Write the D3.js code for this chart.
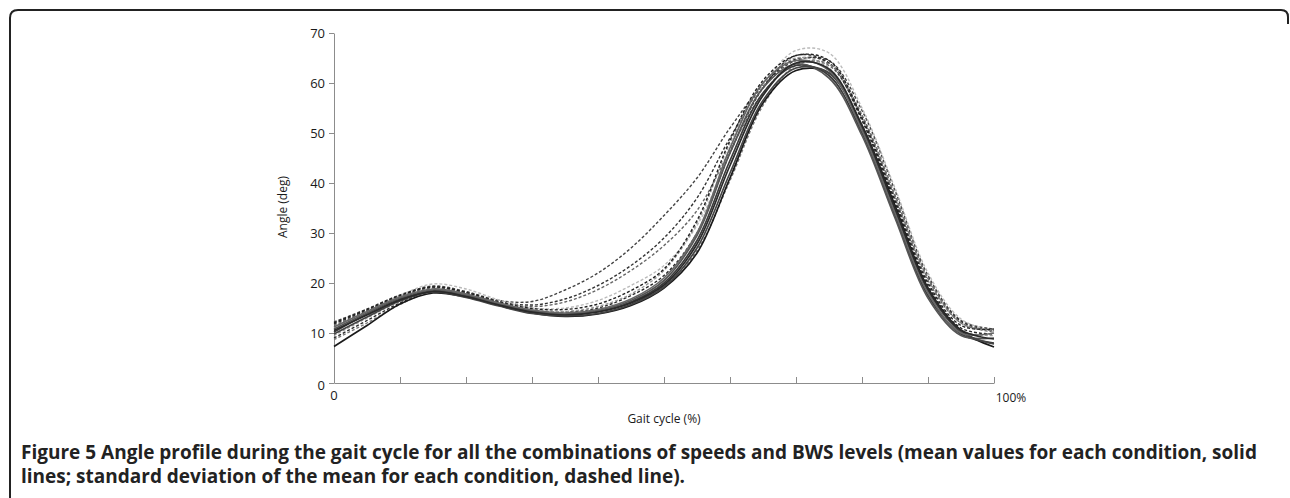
<!DOCTYPE html>
<html>
<head>
<meta charset="utf-8">
<script src="https://cdn.jsdelivr.net/npm/d3@7"></script>
<style>
  body { margin: 0; background: #fff; }
  svg { display: block; }
</style>
</head>
<body>
<div id="chart"></div>
<script>
// gait cycle samples (%)
var gaitPct = [0, 5, 10, 15, 20, 25, 30, 35, 40, 45, 50, 55, 60, 65, 70, 75, 80, 85, 90, 95, 100];

// mean angle per condition (solid)
var mean1 = [7.3, 11.5, 15.8, 18.0, 17.2, 15.5, 14.0, 13.3, 13.8, 15.5, 19.0, 26.0, 41.0, 56.0, 62.5, 62.0, 51.5, 35.5, 19.0, 10.5, 7.2];
var mean2 = [10.2, 13.8, 16.8, 18.4, 17.4, 15.7, 14.3, 13.7, 14.3, 16.2, 20.0, 28.5, 44.5, 58.0, 63.5, 61.5, 50.0, 33.5, 17.5, 9.8, 8.0];
var mean3 = [10.8, 14.0, 17.0, 18.6, 17.6, 15.8, 14.4, 13.8, 14.5, 16.5, 20.5, 29.5, 46.0, 59.0, 63.8, 61.0, 49.5, 33.0, 17.0, 9.5, 9.0];
var mean4 = [9.8, 13.2, 16.4, 18.2, 17.1, 15.4, 13.9, 13.4, 13.9, 15.7, 19.2, 27.0, 42.0, 56.5, 63.0, 62.0, 51.0, 34.5, 18.5, 10.2, 7.8];
var mean5 = [11.2, 14.3, 17.2, 18.8, 17.8, 16.0, 14.6, 14.0, 14.7, 16.8, 21.0, 30.0, 47.0, 60.0, 64.5, 62.5, 50.5, 34.0, 18.0, 10.0, 10.0];
var mean6 = [10.5, 13.6, 16.6, 18.3, 17.3, 15.6, 14.2, 13.6, 14.2, 16.0, 19.6, 27.8, 43.5, 57.5, 64.0, 62.8, 51.5, 35.0, 18.8, 10.6, 8.8];

// standard deviation bounds (dashed)
var sd1 = [12.2, 14.8, 17.6, 19.4, 18.3, 16.5, 16.3, 18.6, 22.0, 27.0, 33.5, 41.0, 51.0, 59.5, 64.5, 64.5, 54.5, 38.5, 21.5, 12.5, 10.8];
var sd2 = [11.8, 14.5, 17.4, 19.2, 18.1, 16.3, 15.6, 16.8, 19.5, 23.5, 29.0, 37.0, 49.0, 59.5, 64.8, 64.0, 53.5, 37.5, 21.0, 12.3, 10.5];
var sd3 = [11.5, 14.3, 17.3, 19.0, 18.0, 16.2, 15.3, 16.2, 18.7, 22.5, 27.5, 34.5, 46.5, 58.0, 64.0, 63.5, 53.0, 37.0, 20.5, 12.0, 10.2];
var sd4 = [11.0, 14.2, 17.5, 19.8, 18.8, 16.6, 15.0, 15.0, 16.5, 19.5, 23.5, 31.5, 46.0, 59.5, 66.5, 66.0, 55.0, 39.0, 22.0, 12.8, 10.3];
var sd5 = [9.0, 12.5, 16.0, 18.5, 17.6, 15.8, 14.5, 14.2, 15.0, 17.5, 21.5, 30.0, 46.0, 59.0, 65.5, 64.0, 52.5, 36.0, 19.5, 11.0, 9.8];
var sd6 = [8.7, 12.0, 15.7, 18.2, 17.4, 15.6, 14.2, 13.8, 14.5, 16.3, 19.5, 26.5, 40.5, 55.5, 63.5, 63.8, 53.5, 37.5, 21.0, 12.0, 10.5];
var sd7 = [9.5, 13.0, 16.3, 18.6, 17.7, 15.8, 14.6, 14.3, 15.3, 17.8, 22.5, 32.0, 48.0, 60.0, 65.0, 63.0, 51.0, 34.5, 18.5, 10.5, 9.5];
var sd8 = [12.0, 14.7, 17.5, 19.2, 18.1, 16.2, 14.9, 14.7, 15.8, 18.5, 22.8, 32.5, 48.5, 60.5, 65.5, 64.5, 53.0, 36.5, 20.0, 11.5, 10.8];

var yTicks = [0, 10, 20, 30, 40, 50, 60, 70];
var xTicks = [0, 10, 20, 30, 40, 50, 60, 70, 80, 90, 100];

var meanLines = [mean1, mean2, mean3, mean4, mean5, mean6];
var sdLines = [sd1, sd2, sd3, sd4, sd5, sd6, sd7, sd8];
var meanColors = ["#1a1a1a", "#3a3a3a", "#555", "#444", "#666", "#2a2a2a"];
var sdColors = ["#444", "#333", "#666", "#bbb", "#2a2a2a", "#777", "#999", "#222"];

var width = 1290, height = 498;

var svg = d3.select("#chart")
    .append("svg")
    .attr("width", width)
    .attr("height", height);

// figure frame (rounded top corners, open bottom)
svg.append("path")
    .attr("d", "M10,498 V18 Q10,10 18,10 H1281 Q1288,10 1288,17 V24")
    .attr("fill", "none")
    .attr("stroke", "#222")
    .attr("stroke-width", 2);

var x = d3.scaleLinear().domain([0, 100]).range([334, 994]);
var y = d3.scaleLinear().domain([0, 70]).range([383, 33]);

var axisColor = "#8c8c8c";

var yAxis = svg.append("g")
    .attr("transform", "translate(334,0)")
    .call(d3.axisLeft(y).tickValues(yTicks).tickSize(5).tickSizeOuter(0).tickPadding(4));
yAxis.select(".domain").attr("stroke", axisColor);
yAxis.selectAll(".tick line").attr("stroke", axisColor);
yAxis.selectAll(".tick text")
    .attr("font-family", "'Open Sans', sans-serif")
    .attr("font-size", 13)
    .attr("fill", "#1a1a1a");
// the 0 label sits a bit low in the original
yAxis.selectAll(".tick text").filter(function(d) { return d === 0; }).attr("dy", "0.5em");

var xAxis = svg.append("g")
    .attr("transform", "translate(0,383)")
    .call(d3.axisBottom(x).tickValues(xTicks).tickSize(-6).tickSizeOuter(0).tickFormat(""));
xAxis.select(".domain").attr("stroke", axisColor);
xAxis.selectAll(".tick line").attr("stroke", axisColor);

svg.append("text")
    .attr("x", x(0))
    .attr("y", 400)
    .attr("text-anchor", "middle")
    .attr("font-family", "'Open Sans', sans-serif")
    .attr("font-size", 13)
    .attr("fill", "#1a1a1a")
    .text("0");

svg.append("text")
    .attr("x", x(100) + 17)
    .attr("y", 402)
    .attr("text-anchor", "middle")
    .attr("font-family", "'Open Sans', sans-serif")
    .attr("font-size", 12)
    .attr("fill", "#1a1a1a")
    .text("100%");

svg.append("text")
    .attr("x", 664)
    .attr("y", 423)
    .attr("text-anchor", "middle")
    .attr("font-family", "'Open Sans', sans-serif")
    .attr("font-size", 12)
    .attr("fill", "#1a1a1a")
    .text("Gait cycle (%)");

svg.append("text")
    .attr("transform", "translate(287,207) rotate(-90)")
    .attr("text-anchor", "middle")
    .attr("font-family", "'Open Sans', sans-serif")
    .attr("font-size", 12)
    .attr("fill", "#1a1a1a")
    .text("Angle (deg)");

var line = d3.line()
    .x(function(d, i) { return x(gaitPct[i]); })
    .y(function(d) { return y(d); })
    .curve(d3.curveCatmullRom.alpha(0.5));

var g = svg.append("g");

g.selectAll(".sd")
    .data(sdLines)
    .enter()
    .append("path")
    .attr("class", "sd")
    .attr("d", line)
    .attr("fill", "none")
    .attr("stroke", function(d, i) { return sdColors[i]; })
    .attr("stroke-width", 1.4)
    .attr("stroke-dasharray", "3,2");

g.selectAll(".mean")
    .data(meanLines)
    .enter()
    .append("path")
    .attr("class", "mean")
    .attr("d", line)
    .attr("fill", "none")
    .attr("stroke", function(d, i) { return meanColors[i]; })
    .attr("stroke-width", 1.7);

// caption
var captionLines = [
    ["Figure 5", " Angle profile during the gait cycle for all the combinations of speeds and BWS levels (mean values for each condition, solid"],
    ["", "lines; standard deviation of the mean for each condition, dashed line)."]
];

var cap = svg.append("g")
    .attr("font-family", "'Open Sans', sans-serif")
    .attr("font-weight", "bold")
    .attr("fill", "#222");

var first = cap.append("text")
    .attr("x", 21)
    .attr("y", 459)
    .attr("font-size", 16);
first.append("tspan").text(captionLines[0][0]);
first.append("tspan").text(captionLines[0][1]);

// scale font so the first line spans the same width as the original
var w = first.node().getComputedTextLength();
var fs = 16 * 1237 / w;
first.attr("font-size", fs);

cap.append("text")
    .attr("x", 21)
    .attr("y", 483)
    .attr("font-size", fs)
    .text(captionLines[1][1]);
</script>
</body>
</html>
